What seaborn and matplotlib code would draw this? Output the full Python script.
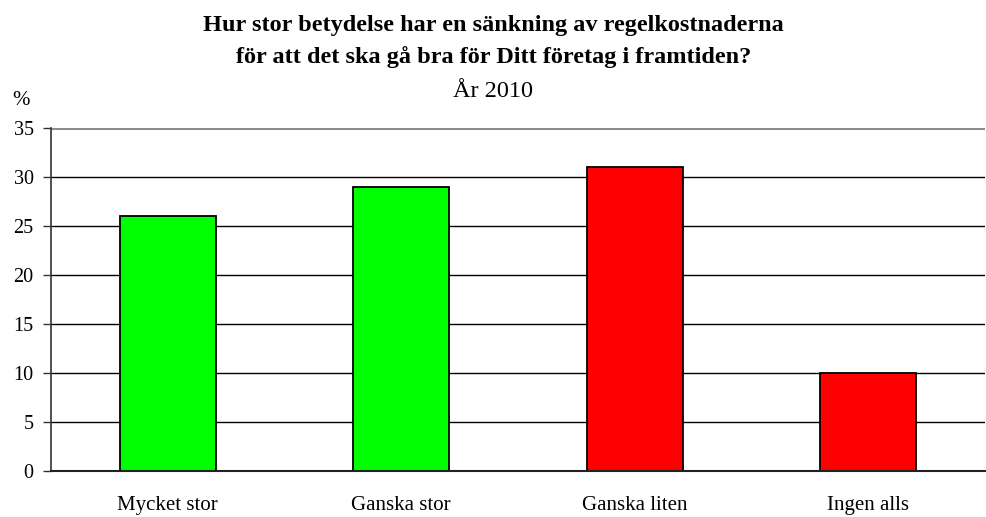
import numpy as np
import matplotlib
matplotlib.use('Agg')
import matplotlib.pyplot as plt
import seaborn as sns

categories = ['Mycket stor', 'Ganska stor', 'Ganska liten', 'Ingen alls']
values = [26, 29, 31, 10]
bar_colors = ['#00ff00', '#00ff00', '#ff0000', '#ff0000']
y_ticks = [0, 5, 10, 15, 20, 25, 30, 35]

sns.set_theme(style='white')
plt.rcParams['font.family'] = ['Liberation Serif', 'DejaVu Serif']
plt.rcParams['text.color'] = 'black'
plt.rcParams['xtick.color'] = 'black'
plt.rcParams['ytick.color'] = 'black'

fig = plt.figure(figsize=(9.87, 5.17), dpi=100)
ax = fig.add_axes([51 / 987, 1 - 471 / 517, 934 / 987, 343 / 517])

sns.barplot(x=categories, y=values, hue=categories, palette=bar_colors,
            legend=False, edgecolor='black', linewidth=1.3, width=0.41,
            saturation=1, ax=ax)

ax.set_xlim(-0.5, 3.5)
ax.set_ylim(0, 35)
ax.set_yticks(y_ticks)
ax.set_yticklabels([str(t) for t in y_ticks], fontsize=14.5)
ax.set_xticks(range(len(categories)))
ax.set_xticklabels(categories, fontsize=15)
ax.set_xticks(np.arange(-0.5, 4, 1), minor=True)
ax.tick_params(axis='x', which='major', length=0, pad=18)
ax.tick_params(axis='x', which='minor', length=6, width=1, color='#333333', direction='out')
ax.tick_params(axis='y', length=5.5, width=1, color='#333333', direction='out', pad=7, left=True)
ax.set_xlabel('')
ax.set_ylabel('')

# horizontal grid, top one is grey like the plot-area border
for t in y_ticks[1:-1]:
    ax.axhline(t, color='black', lw=1, zorder=0)
ax.axhline(35, color='#8c8c8c', lw=2.2, zorder=0)

for s in ['top', 'right']:
    ax.spines[s].set_visible(False)
ax.spines['left'].set_color('#333333')
ax.spines['left'].set_linewidth(1.2)
ax.spines['bottom'].set_color('#222222')
ax.spines['bottom'].set_linewidth(1.5)

fig.text(0.5, 1 - 31 / 517, 'Hur stor betydelse har en sänkning av regelkostnaderna',
         ha='center', va='baseline', fontsize=17.5, fontweight='bold')
fig.text(0.5, 1 - 63 / 517, 'för att det ska gå bra för Ditt företag i framtiden?',
         ha='center', va='baseline', fontsize=17.5, fontweight='bold')
fig.text(0.5, 1 - 97 / 517, 'År 2010', ha='center', va='baseline', fontsize=17.5)
fig.text(21 / 987, 1 - 105 / 517, '%', ha='center', va='baseline', fontsize=15)

fig.savefig('out.png', dpi=100)
